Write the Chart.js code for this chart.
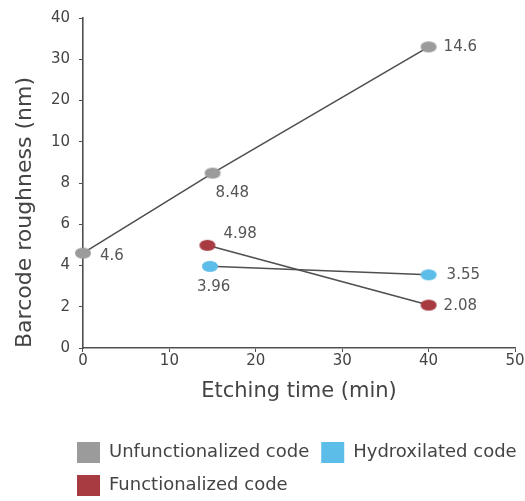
<!DOCTYPE html>
<html>
<head>
<meta charset="utf-8">
<script src="https://cdn.jsdelivr.net/npm/chart.js@4"></script>
<style>
  html, body { margin: 0; padding: 0; background: #ffffff; }
  #wrap { width: 525px; height: 501px; position: relative; }
</style>
</head>
<body>
<div id="wrap"><canvas id="c"></canvas></div>
<script>
// ---- data ----
const seriesNames = ['Unfunctionalized code', 'Hydroxilated code', 'Functionalized code'];
const unfunctionalizedX = [0, 15, 40];
const unfunctionalizedY = [4.6, 8.48, 14.6];
const hydroxilatedX = [14.7, 40];
const hydroxilatedY = [3.96, 3.55];
const functionalizedX = [14.4, 40];
const functionalizedY = [4.98, 2.08];
const xTickValues = [0, 10, 20, 30, 40, 50];
const yTickLabels = ['0', '2', '4', '6', '8', '10', '20', '30', '40'];

// ---- styles ----
const markerColors = ['#9b9b9b', '#5cbde9', '#a83a42'];
const lineColor = '#4f4f4f';
const textColor = '#444444';
const FONT = "'DejaVu Sans', sans-serif";
// label placement per point: [dx, dy] from the point centre (text left-aligned, middle)
const labelOffsets = [
  [[17, 3], [3, 20], [15, 0]],
  [[-13, 21], [18, 0]],
  [[16, -11], [15, 1]]
];

function ellipseMarker(color) {
  const c = document.createElement('canvas');
  c.width = 18; c.height = 13;
  const g = c.getContext('2d');
  g.fillStyle = color;
  g.beginPath();
  g.ellipse(9, 6.5, 8, 5.5, 0, 0, Math.PI * 2);
  g.fill();
  return c;
}

function pts(xs, ys) { return xs.map((x, i) => ({ x: x, y: ys[i] })); }

const valueLabels = {
  id: 'valueLabels',
  afterDatasetsDraw(chart) {
    const ctx = chart.ctx;
    ctx.save();
    ctx.font = '15px ' + FONT;
    ctx.fillStyle = '#555555';
    ctx.textAlign = 'left';
    ctx.textBaseline = 'middle';
    chart.data.datasets.forEach((ds, i) => {
      const meta = chart.getDatasetMeta(i);
      meta.data.forEach((el, j) => {
        const off = labelOffsets[i][j];
        ctx.fillText(String(ds.data[j].y), el.x + off[0], el.y + off[1]);
      });
    });
    ctx.restore();
  }
};

const legendShift = {
  id: 'legendShift',
  afterLayout(chart) {
    const l = chart.legend;
    if (!l) return;
    l.left += 65; l.right += 65;
    l.top += 5; l.bottom += 5;
  }
};

const datasets = [
  pts(unfunctionalizedX, unfunctionalizedY),
  pts(hydroxilatedX, hydroxilatedY),
  pts(functionalizedX, functionalizedY)
].map((d, i) => ({
  label: seriesNames[i],
  data: d,
  borderColor: lineColor,
  backgroundColor: markerColors[i],
  borderWidth: 1.6,
  pointStyle: ellipseMarker(markerColors[i]),
  showLine: true,
  fill: false,
  tension: 0,
  clip: false
}));

new Chart(document.getElementById('c'), {
  type: 'line',
  data: { datasets: datasets },
  options: {
    responsive: true,
    maintainAspectRatio: false,
    animation: false,
    devicePixelRatio: 1,
    layout: { padding: { top: 17, right: 10, left: 0, bottom: 0 } },
    plugins: {
      tooltip: { enabled: false },
      legend: {
        position: 'bottom',
        align: 'start',
        labels: {
          boxWidth: 23,
          boxHeight: 21,
          padding: 12,
          color: textColor,
          font: { family: FONT, size: 18 },
          generateLabels(chart) {
            return chart.data.datasets.map((ds, i) => ({
              text: ds.label,
              fillStyle: markerColors[i],
              strokeStyle: markerColors[i],
              lineWidth: 0,
              fontColor: textColor,
              hidden: false,
              datasetIndex: i
            }));
          }
        }
      }
    },
    scales: {
      x: {
        type: 'linear',
        min: 0, max: 50,
        afterBuildTicks(scale) { scale.ticks = xTickValues.map(v => ({ value: v })); },
        grid: { display: true, drawOnChartArea: false, drawTicks: true, tickLength: 4, color: lineColor },
        border: { display: true, color: lineColor, width: 1.6 },
        ticks: { color: textColor, font: { family: FONT, size: 15 }, padding: 0, maxRotation: 0 },
        title: {
          display: true, text: 'Etching time (min)', color: textColor,
          font: { family: FONT, size: 21 }, padding: { top: 9.4, bottom: 20.4 }
        }
      },
      y: {
        type: 'linear',
        min: 0, max: 16,
        ticks: {
          stepSize: 2, color: textColor, font: { family: FONT, size: 15 }, padding: 9,
          callback: (v, i) => yTickLabels[i]
        },
        grid: { display: true, drawOnChartArea: false, drawTicks: true, tickLength: 4, color: lineColor },
        border: { display: true, color: lineColor, width: 1.6 },
        title: {
          display: true, text: 'Barcode roughness (nm)', color: textColor, align: 'start',
          font: { family: FONT, size: 22 }, padding: { top: 12, bottom: 3.5 }
        }
      }
    }
  },
  plugins: [valueLabels, legendShift]
});
</script>
</body>
</html>
